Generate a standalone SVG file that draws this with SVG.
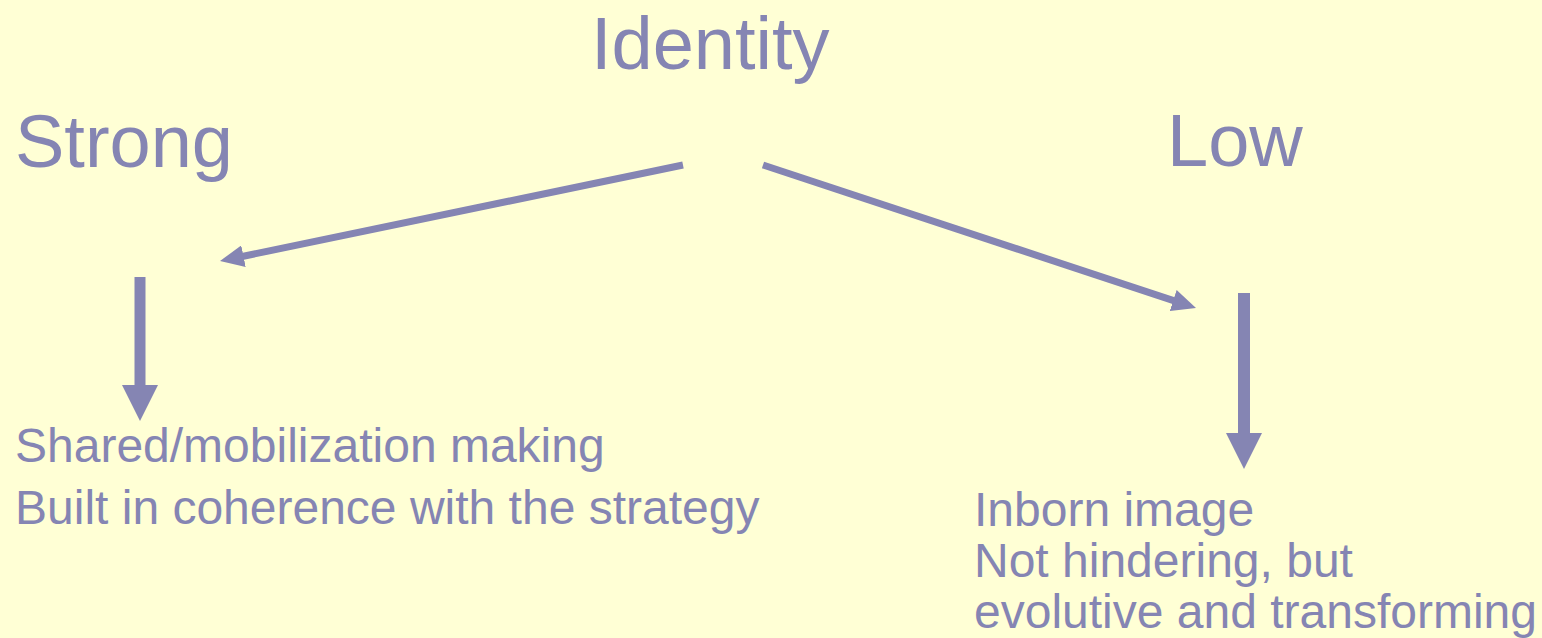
<svg xmlns="http://www.w3.org/2000/svg" width="1542" height="638" viewBox="0 0 1542 638">
<style>
.t{font-family:"Liberation Sans",Arial,sans-serif;fill:#8585B3}
.big{font-size:74px}
.small{font-size:48px}
.c{stroke:#8585B3;fill:none}
</style>
<defs>
<marker id="hs" markerUnits="userSpaceOnUse" viewBox="0 0 24 22" markerWidth="24" markerHeight="22" refX="10" refY="11" orient="auto">
<path d="M0,0 L24,11 L0,22 z" fill="#8585B3"/>
</marker>
<marker id="hb" markerUnits="userSpaceOnUse" viewBox="0 0 36 36" markerWidth="36" markerHeight="36" refX="0" refY="18" orient="auto">
<path d="M0,0 L36,18 L0,36 z" fill="#8585B3"/>
</marker>
</defs>
<rect width="1542" height="638" fill="#FFFFD5"/>
<g id="identity"><text class="t big" x="591" y="69">Identity</text></g>
<g id="strong"><text class="t big" x="15" y="167">Strong</text></g>
<g id="low"><text class="t big" x="1167" y="166">Low</text></g>
<g id="strong-result">
<text class="t small" x="15" y="462">Shared/mobilization making</text>
<text class="t small" x="15" y="524">Built in coherence with the strategy</text>
</g>
<g id="low-result">
<text class="t small" x="974" y="526">Inborn image</text>
<text class="t small" x="974" y="577">Not hindering, but</text>
<text class="t small" x="974" y="628">evolutive and transforming</text>
</g>
<g id="connectors">
<line class="c" x1="683" y1="165" x2="233.7" y2="258.2" stroke-width="7" marker-end="url(#hs)"/>
<line class="c" x1="763" y1="165" x2="1182.7" y2="303.6" stroke-width="7" marker-end="url(#hs)"/>
<line class="c" x1="140" y1="277" x2="140" y2="385" stroke-width="11" marker-end="url(#hb)"/>
<line class="c" x1="1244" y1="293" x2="1244" y2="433" stroke-width="12" marker-end="url(#hb)"/>
</g>
</svg>
